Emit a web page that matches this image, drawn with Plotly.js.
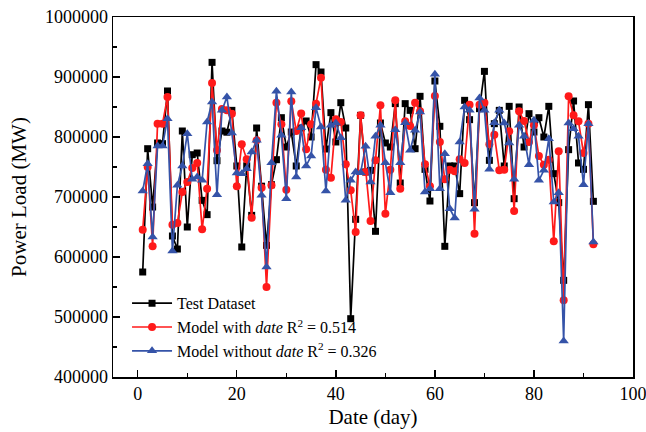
<!DOCTYPE html>
<html>
<head>
<meta charset="utf-8">
<script src="https://cdn.plot.ly/plotly-3.0.1.min.js"></script>
<style>html,body{margin:0;padding:0;background:#fff;}#chart{width:646px;height:432px;}</style>
</head>
<body>
<div id="chart"></div>
<script>
const days = [];
for (let d = 1; d <= 92; d++) days.push(d);

const testDataset = [575000,780500,683300,790000,788900,876700,635000,613300,810000,650000,
770500,773300,694400,670600,924400,760500,810000,808000,844400,751700,
616700,752000,669400,815000,718000,619400,720500,762200,832200,783300,
808300,751700,815000,826700,800000,920600,908300,780000,840600,791700,
857200,815000,497200,662800,836100,741700,744400,642800,823300,790000,
783300,855600,723300,855600,844400,780500,867800,746100,693300,893300,
817800,617800,751700,751700,705600,861100,828900,690600,847200,909400,
761100,822200,844400,751700,851100,697200,850000,783300,838900,808300,
832200,800000,851100,738900,690600,561100,778900,860000,756700,746100,
853900,692800];

const modelWithDate = [645500,750000,617800,822200,822200,866700,653900,656700,708300,725000,
748300,756700,646100,713900,890000,777800,846700,844400,838900,717800,
787800,762800,665600,794400,715600,550000,719400,857200,821100,712200,
859400,810000,839000,779400,821100,855600,898900,745600,732200,829400,
825000,754400,711100,641700,836100,741700,660000,761100,852800,672200,
745600,861100,713900,826100,818300,857200,842800,754400,717800,868300,
791700,729400,745600,742800,762800,756700,853900,638900,853900,857200,
787800,803900,744400,745600,809400,676700,842800,826700,791700,819400,
768300,753900,762200,626100,776100,527800,867800,836100,826100,773300,
822200,621100];

const modelWithoutDate = [710000,755600,633300,785000,785000,830600,610000,719400,751700,805600,
729400,733300,727800,825000,858300,703900,844400,866700,806700,740000,
738900,747200,775000,794400,702800,583300,757200,876100,802800,697200,
875000,733300,815600,751700,768300,848900,816700,710000,819400,823300,
798900,694400,727800,741700,740600,784400,725000,801100,819400,757200,
707200,812200,757200,823900,777800,811100,841700,708300,713900,904400,
713900,772200,680600,665000,791700,850000,844400,679400,865000,844400,
746100,823900,844400,823300,790000,729400,819400,801100,753900,827800,
727800,744400,797200,691700,707200,460000,823300,813900,801100,720600,
822200,625000];

const seriesNames = [
  'Test Dataset',
  'Model with <i>date</i> R<sup>2</sup> = 0.514',
  'Model without <i>date</i> R<sup>2</sup> = 0.326'
];

const traces = [
  {x: days, y: testDataset, name: seriesNames[0], type: 'scatter', mode: 'lines+markers',
   line: {color: '#000000', width: 1.7}, marker: {symbol: 'square', size: 7, color: '#000000'}},
  {x: days, y: modelWithDate, name: seriesNames[1], type: 'scatter', mode: 'lines+markers',
   line: {color: '#ff1a1a', width: 1.7}, marker: {symbol: 'circle', size: 8, color: '#ff1a1a'}},
  {x: days, y: modelWithoutDate, name: seriesNames[2], type: 'scatter', mode: 'lines+markers',
   line: {color: '#3553a8', width: 1.7}, marker: {symbol: 'triangle-up', size: 9, color: '#3553a8'}}
];

const font = 'Liberation Serif, Times New Roman, serif';

const layout = {
  width: 646, height: 432,
  margin: {l: 113, r: 13, t: 17, b: 55},
  paper_bgcolor: '#fff', plot_bgcolor: '#fff',
  font: {family: font, size: 18, color: '#000'},
  showlegend: true,
  legend: {x: 0.027, y: 0.252, xanchor: 'left', yanchor: 'top', bgcolor: 'rgba(0,0,0,0)',
           font: {family: font, size: 16, color: '#000'}, tracegroupgap: 0, itemwidth: 40},
  xaxis: {
    range: [-5, 100], tickvals: [0, 20, 40, 60, 80, 100], ticks: 'inside', ticklen: 7,
    tickwidth: 1.3, tickcolor: '#000', ticklabeloverflow: 'allow',
    minor: {dtick: 10, tick0: 0, ticks: 'inside', ticklen: 4, tickcolor: '#000', tickwidth: 1.2},
    showgrid: false, zeroline: false, showline: true, linecolor: '#000', linewidth: 1.5, mirror: true,
    tickfont: {family: font, size: 18},
    title: {text: 'Date (day)', font: {family: font, size: 21}, standoff: 6}
  },
  yaxis: {
    range: [400000, 1000000], dtick: 100000, tick0: 400000, ticks: 'inside', ticklen: 7,
    tickwidth: 1.3, tickcolor: '#000', tickformat: 'd', separatethousands: false,
    minor: {dtick: 50000, ticks: 'inside', ticklen: 4, tickcolor: '#000', tickwidth: 1.2},
    showgrid: false, zeroline: false, showline: true, linecolor: '#000', linewidth: 1.5, mirror: true,
    tickfont: {family: font, size: 18},
    title: {text: 'Power Load (MW)', font: {family: font, size: 21}, standoff: 12}
  }
};

Plotly.newPlot('chart', traces, layout, {displayModeBar: false, staticPlot: true});
</script>
</body>
</html>
